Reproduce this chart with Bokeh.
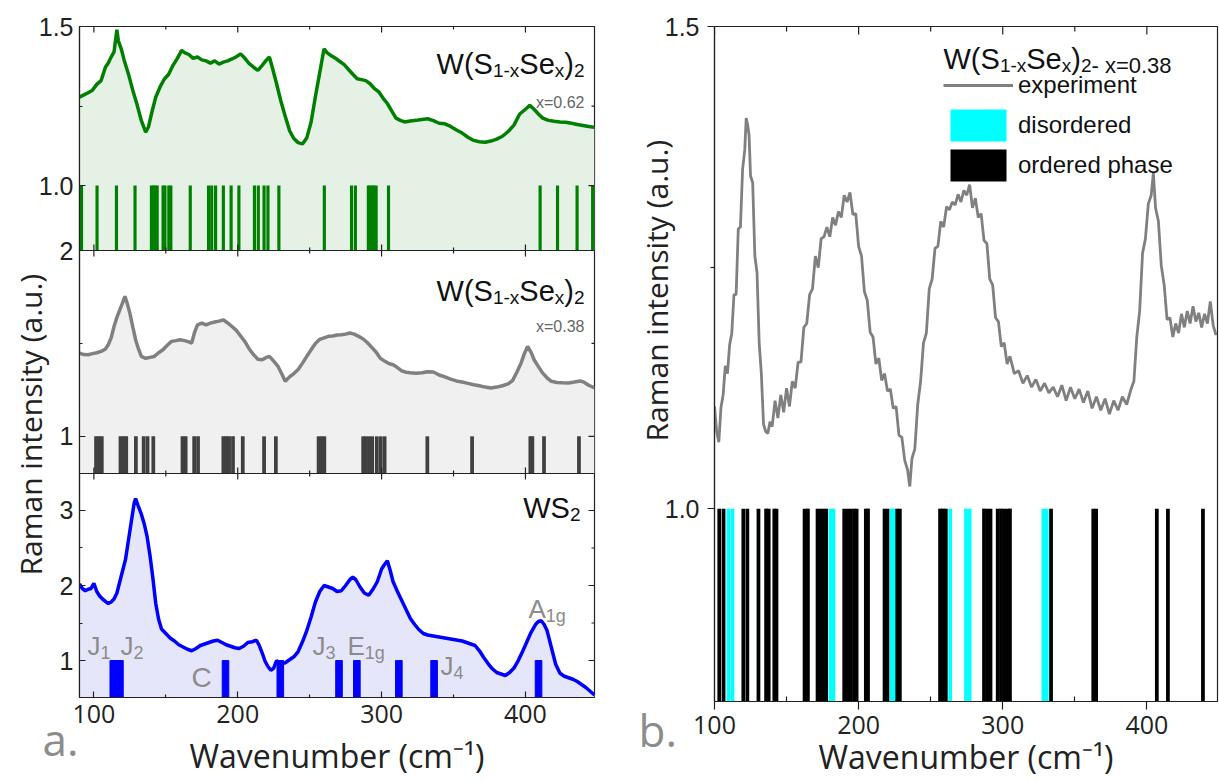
import math
from bokeh.plotting import figure
from bokeh.models import Range1d, FixedTicker, Label, Span, Legend, LegendItem, PrintfTickFormatter, Title
from bokeh.layouts import row
from bokeh.embed import file_html
from bokeh.resources import INLINE

# ---------------- data ----------------
x_ticks = [100, 200, 300, 400]
x_minor = [150, 250, 350]

# (a) top: W(S1-xSex)2, x = 0.62
green_x = [90, 93, 96, 99, 102, 105, 108, 110, 112, 114, 116, 117, 119, 121, 124, 127, 130, 133, 136, 138,
           140, 143, 146, 149, 152, 155, 158, 161, 163, 166, 169, 172, 175, 178, 181, 184, 187, 190, 193, 196,
           199, 202, 205, 208, 211, 214, 217, 220, 222, 224, 227, 230, 233, 236, 239, 242, 245, 248, 251, 254,
           257, 260, 262, 265, 268, 271, 274, 277, 280, 283, 286, 289, 292, 295, 298, 301, 304, 307, 310, 313,
           316, 320, 324, 328, 332, 336, 340, 344, 348, 352, 356, 360, 364, 368, 372, 376, 380, 384, 388, 392,
           396, 400, 403, 406, 409, 412, 416, 420, 424, 428, 432, 436, 440, 444, 448]
green_y = [1.278, 1.285, 1.292, 1.300, 1.318, 1.330, 1.372, 1.385, 1.404, 1.420, 1.490, 1.455, 1.430, 1.395, 1.351, 1.300, 1.255, 1.204, 1.168, 1.185,
           1.225, 1.278, 1.310, 1.335, 1.350, 1.378, 1.400, 1.425, 1.418, 1.412, 1.400, 1.404, 1.395, 1.392, 1.385, 1.392, 1.382, 1.388, 1.392, 1.398,
           1.405, 1.414, 1.400, 1.383, 1.372, 1.362, 1.378, 1.395, 1.404, 1.372, 1.320, 1.265, 1.218, 1.173, 1.148, 1.135, 1.131, 1.150, 1.200, 1.280,
           1.355, 1.430, 1.418, 1.408, 1.400, 1.390, 1.380, 1.365, 1.350, 1.336, 1.333, 1.330, 1.320, 1.305, 1.295, 1.275, 1.258, 1.235, 1.212, 1.205,
           1.200, 1.203, 1.205, 1.208, 1.210, 1.204, 1.196, 1.194, 1.186, 1.175, 1.165, 1.152, 1.142, 1.138, 1.136, 1.140, 1.146, 1.155, 1.170, 1.190,
           1.225, 1.240, 1.252, 1.240, 1.225, 1.212, 1.205, 1.202, 1.200, 1.199, 1.196, 1.192, 1.189, 1.186, 1.183]
green_modes = [91.4, 102.2, 115.7, 128.6, 140.0, 141.3, 142.7, 144.0, 148.1, 149.4, 152.1, 153.5, 167.0, 179.7,
               181.9, 184.6, 190.0, 195.4, 200.8, 211.6, 214.3, 218.3, 221.0, 228.6, 260.2, 279.1, 281.8, 290.8,
               291.8, 293.5, 294.5, 296.2, 304.8, 410.2, 422.3, 435.9, 446.7]

# (a) middle: W(S1-xSex)2, x = 0.38
gray_x = [90, 93, 96, 99, 102, 105, 108, 110, 112, 114, 116, 118, 120, 121.6, 123, 125, 127, 129, 131, 133,
          136, 139, 142, 145, 148, 151, 154, 157, 160, 163, 166, 168, 170, 172, 175, 178, 181, 184, 187, 190,
          193, 196, 199, 202, 205, 208, 211, 214, 217, 220, 222, 225, 228, 231, 233, 236, 239, 242, 245, 248,
          251, 254, 257, 260, 263, 266, 269, 272, 275, 278, 281, 284, 287, 290, 293, 296, 299, 302, 305, 308,
          311, 314, 317, 320, 324, 328, 332, 336, 340, 344, 348, 352, 356, 360, 364, 368, 372, 376, 380, 384,
          388, 391, 394, 397, 399, 401.5, 404, 406, 409, 412, 415, 418, 422, 426, 430, 434, 438, 441, 444, 448]
gray_y = [1.448, 1.440, 1.439, 1.445, 1.450, 1.457, 1.470, 1.493, 1.530, 1.591, 1.640, 1.681, 1.720, 1.753, 1.720, 1.663, 1.590, 1.520, 1.470, 1.430,
          1.420, 1.425, 1.430, 1.450, 1.466, 1.490, 1.511, 1.515, 1.520, 1.515, 1.508, 1.502, 1.560, 1.600, 1.609, 1.600, 1.609, 1.615, 1.620, 1.627,
          1.610, 1.591, 1.570, 1.540, 1.510, 1.470, 1.440, 1.415, 1.412, 1.425, 1.430, 1.405, 1.376, 1.330, 1.296, 1.320, 1.338, 1.360, 1.394, 1.430,
          1.466, 1.500, 1.522, 1.530, 1.538, 1.540, 1.545, 1.547, 1.550, 1.556, 1.550, 1.538, 1.525, 1.505, 1.480, 1.455, 1.421, 1.405, 1.392, 1.385,
          1.370, 1.352, 1.345, 1.342, 1.340, 1.342, 1.348, 1.346, 1.330, 1.320, 1.308, 1.298, 1.292, 1.285, 1.278, 1.272, 1.265, 1.260, 1.265, 1.272,
          1.282, 1.300, 1.345, 1.395, 1.440, 1.484, 1.450, 1.412, 1.375, 1.340, 1.315, 1.296, 1.290, 1.288, 1.287, 1.292, 1.298, 1.290, 1.275, 1.260]
gray_modes = [101.5, 103.5, 105.5, 118.5, 120.5, 122.5, 129.2, 134.6, 137.3, 141.3, 161.6, 163.8, 169.7, 172.4,
              190.0, 192.0, 194.0, 196.7, 203.5, 218.3, 226.5, 256.2, 258.3, 260.2, 287.2, 289.1, 291.3, 293.5,
              296.7, 299.4, 302.1, 331.8, 362.9, 403.4, 404.8, 412.9, 437.2]

# (a) bottom: WS2
blue_x = [90, 92, 94, 96, 98, 100, 102, 104, 106, 108, 110, 112, 114, 116, 118, 120, 122, 124, 126, 128,
          129, 131, 133, 135, 137, 139, 141, 143, 145, 147, 150, 153, 156, 159, 162, 165, 168, 171, 174, 177,
          180, 183, 186, 189, 192, 195, 198, 201, 204, 207, 210, 213, 215, 217, 219, 221, 223, 225, 227, 229,
          231, 233, 236, 239, 242, 245, 248, 251, 254, 257, 260, 263, 266, 269, 272, 275, 278, 280, 282, 285,
          288, 291, 294, 297, 300, 302, 304, 306, 308, 311, 314, 317, 320, 323, 326, 329, 332, 335, 338, 341,
          344, 347, 350, 353, 356, 359, 362, 365, 368, 371, 374, 377, 380, 383, 386, 389, 392, 395, 398, 401,
          404, 407, 409, 411, 413, 415, 417, 419, 421, 424, 427, 430, 433, 436, 439, 442, 445, 448]
blue_y = [2.02, 1.96, 1.93, 1.95, 1.96, 2.03, 1.92, 1.86, 1.82, 1.79, 1.76, 1.78, 1.82, 1.90, 2.05, 2.20, 2.35, 2.60, 2.85, 3.10,
          3.16, 3.05, 2.95, 2.82, 2.65, 2.40, 2.10, 1.76, 1.55, 1.42, 1.36, 1.30, 1.26, 1.21, 1.18, 1.15, 1.13, 1.16, 1.20, 1.22,
          1.24, 1.26, 1.27, 1.24, 1.21, 1.19, 1.17, 1.16, 1.19, 1.24, 1.25, 1.27, 1.20, 1.10, 0.99, 0.92, 0.87, 0.90, 1.00, 0.97,
          0.96, 0.97, 1.01, 1.05, 1.12, 1.25, 1.40, 1.58, 1.78, 1.92, 2.00, 1.98, 1.96, 1.92, 1.93, 2.00, 2.08, 2.11, 2.08, 1.98,
          1.90, 1.87, 1.95, 2.05, 2.22, 2.28, 2.33, 2.20, 2.05, 1.92, 1.80, 1.68, 1.56, 1.48, 1.41, 1.36, 1.34, 1.33, 1.32, 1.31,
          1.30, 1.29, 1.28, 1.27, 1.26, 1.24, 1.22, 1.20, 1.13, 1.04, 0.96, 0.89, 0.84, 0.82, 0.80, 0.84, 0.90, 1.00, 1.12, 1.25,
          1.38, 1.48, 1.52, 1.53, 1.48, 1.40, 1.25, 1.10, 0.95, 0.83, 0.79, 0.77, 0.75, 0.72, 0.68, 0.64, 0.59, 0.54]
blue_modes = [113.5, 118.1, 191.5, 229.6, 270.4, 282.8, 312.0, 336.5, 409.1]

# (b) x = 0.38 experiment and computed modes
right_x = [100, 101.5, 103, 104.5, 106, 107.5, 109, 110.5, 112, 113.5, 115, 116.5, 118, 119.5, 121, 122, 123, 124, 125, 126.5,
           128, 129.5, 131, 132.5, 134, 135.5, 137, 138.5, 140, 142, 144, 146, 148, 150, 152, 154, 156, 158, 160, 162,
           164, 166, 168, 170, 172, 174, 176, 178, 180, 182, 184, 186, 188, 190, 192, 194, 196, 198, 200, 202,
           204, 206, 208, 210, 212, 214, 216, 218, 220, 222, 224, 226, 228, 230, 232, 234, 235.5, 237, 239, 241,
           243, 245, 247, 249, 251, 253, 255, 257, 259, 261, 263, 265, 267, 269, 271, 273, 275, 277, 279, 281,
           283, 285, 287, 289, 291, 293, 295, 297, 299, 301, 303, 305, 308, 311, 314, 317, 320, 323, 326, 329,
           332, 335, 338, 341, 344, 347, 350, 353, 356, 359, 362, 365, 368, 371, 374, 377, 380, 383, 386, 389,
           391, 393, 395, 397, 399, 401, 403, 404.5, 406, 408, 410, 412, 414, 416, 418, 420, 422, 424, 426, 428,
           430, 432, 434, 436, 438, 440, 442, 444, 446, 448]
right_y = [1.106, 1.080, 1.069, 1.105, 1.118, 1.148, 1.140, 1.170, 1.182, 1.222, 1.222, 1.290, 1.292, 1.352, 1.372, 1.405, 1.398, 1.387, 1.345, 1.338,
           1.262, 1.245, 1.172, 1.140, 1.088, 1.080, 1.078, 1.090, 1.085, 1.112, 1.094, 1.118, 1.100, 1.125, 1.106, 1.132, 1.125, 1.152, 1.152, 1.188,
           1.192, 1.222, 1.228, 1.262, 1.250, 1.280, 1.282, 1.292, 1.282, 1.302, 1.294, 1.308, 1.302, 1.325, 1.318, 1.328, 1.305, 1.306, 1.272, 1.262,
           1.225, 1.216, 1.183, 1.178, 1.150, 1.156, 1.133, 1.140, 1.122, 1.124, 1.104, 1.106, 1.076, 1.074, 1.050, 1.040, 1.023, 1.052, 1.062, 1.108,
           1.132, 1.172, 1.182, 1.228, 1.238, 1.270, 1.272, 1.298, 1.292, 1.313, 1.310, 1.318, 1.315, 1.326, 1.318, 1.330, 1.325, 1.336, 1.312, 1.322,
           1.302, 1.306, 1.278, 1.275, 1.238, 1.232, 1.198, 1.194, 1.168, 1.172, 1.150, 1.158, 1.140, 1.143, 1.130, 1.138, 1.126, 1.134, 1.122, 1.130,
           1.120, 1.126, 1.116, 1.128, 1.112, 1.126, 1.114, 1.124, 1.110, 1.122, 1.104, 1.116, 1.102, 1.114, 1.098, 1.112, 1.102, 1.116, 1.108, 1.124,
           1.132, 1.178, 1.205, 1.265, 1.280, 1.316, 1.325, 1.348, 1.312, 1.298, 1.252, 1.232, 1.196, 1.198, 1.178, 1.192, 1.182, 1.202, 1.188, 1.205,
           1.192, 1.210, 1.194, 1.203, 1.188, 1.202, 1.192, 1.215, 1.190, 1.180]
ordered_modes = [103.3, 106.3, 120.0, 122.8, 130.5, 135.8, 137.6, 141.5, 143.0, 162.5, 164.8, 171.5, 173.5, 175.5,
                 177.5, 190.0, 192.3, 194.6, 196.9, 198.6, 205.0, 206.5, 218.0, 220.0, 226.8, 228.6, 256.5, 258.5,
                 260.5, 287.0, 289.3, 291.5, 296.5, 298.8, 301.0, 303.3, 305.0, 333.5, 362.8, 364.8, 406.9, 414.6, 438.9]
disordered_modes = [109.7, 112.5, 180.5, 182.5, 222.8, 224.6, 263.5, 274.5, 277.0, 328.2, 330.5]

# ---------------- helpers ----------------
AX = "#222222"
GRAYTXT = "#8c8c8c"
SANS = "Liberation Sans"
OPEN = "Open Sans"
AW = {'W': 944, '(': 333, ')': 333, 'S': 667, 'e': 556, 'x': 500, '1': 556, '-': 333, '2': 556, ' ': 278,
      '=': 584, '0': 556, '.': 278, '3': 556, '6': 556, '8': 556, 'A': 667, 'E': 667, 'J': 500, 'C': 722,
      'g': 556, '4': 556}


def tw(s, size):
    return sum(AW.get(c, 556) for c in s) * size / 1000.0


def rich(fig, x, y, pieces, sizes, color, align="left", yr="default", drop=7, font=SANS):
    ws = [tw(t, sizes[s]) for t, s in pieces]
    off = -sum(ws) if align == "right" else 0.0
    for (t, s), w in zip(pieces, ws):
        fig.add_layout(Label(x=x, y=y, x_offset=off, y_offset=(-drop if s else 0), text=t, text_font=font,
                             text_font_size=f"{sizes[s]}px", text_color=color,
                             text_baseline="alphabetic", text_align="left", y_range_name=yr))
        off += w


def style_axis(ax, tin=0, tout=0, mtin=0, mtout=0, font=OPEN, size="25px", standoff=6):
    ax.major_tick_in = tin
    ax.major_tick_out = tout
    ax.minor_tick_in = mtin
    ax.minor_tick_out = mtout
    for a in ("axis_line", "major_tick_line", "minor_tick_line"):
        setattr(ax, a + "_color", AX)
        setattr(ax, a + "_width", 1.2)
    ax.major_label_text_font = font
    ax.major_label_text_font_size = size
    ax.major_label_text_color = AX
    ax.major_label_standoff = standoff


def xlabel(ax, standoff):
    ax.axis_label = "Wavenumber (cm\u207b\u00b9)"
    ax.axis_label_text_font = OPEN
    ax.axis_label_text_font_size = "32px"
    ax.axis_label_text_font_style = "normal"
    ax.axis_label_text_color = AX
    ax.axis_label_standoff = standoff


def ytitle(offset):
    return Title(text="Raman intensity (a.u.)", align="left", offset=offset, text_font=OPEN,
                 text_font_size="30px", text_font_style="normal", text_color=AX, standoff=-30)


def letter(fig, x, y, text):
    # panel letter lives in the bottom side panel, so it is not clipped to the frame
    fig.add_layout(Label(x=x, y=y, text=text, text_align="left", text_baseline="alphabetic",
                         text_font=OPEN, text_font_size="44px", text_color=GRAYTXT), "below")


WSSE = [("W(S", 0), ("1-x", 1), ("Se", 0), ("x", 1), (")", 0), ("2", 1)]

# ---------------- left figure (a) ----------------
FT, FB, FL, FR = 26, 697, 79, 594
XL = (90.0, 448.0)
TOP_VR = (0.796, 1.5)
MID_VR = (0.80, 2.0)
BOT_VR = (0.507, 3.493)


def full(vr, a, b):
    lo, hi = vr
    s = (b - a) / (hi - lo)
    return (lo - (FB - b) / s, hi + (a - FT) / s), s


top_full, s_top = full(TOP_VR, 26, 250)
mid_full, s_mid = full(MID_VR, 250, 473)
bot_full, s_bot = full(BOT_VR, 473, 697)
s_x = (FR - FL) / (XL[1] - XL[0])


def to_def(v, rng):
    pos = bot_full[0] + (v - rng[0]) / (rng[1] - rng[0]) * (bot_full[1] - bot_full[0])
    return min(max(pos, bot_full[0]), bot_full[1] - 1e-9)


def lx(px):
    return XL[0] + (px - FL) / s_x


def lyb(py):
    return BOT_VR[0] + (FB - py) / s_bot


def lyt(py):
    return TOP_VR[1] - (py - FT) / s_top


def lym(py):
    return MID_VR[1] - (py - 250) / s_mid


p = figure(frame_width=FR - FL, frame_height=FB - FT, x_range=Range1d(*XL), y_range=Range1d(*bot_full),
           output_backend="svg", toolbar_location=None, min_border_left=FL, min_border_right=620 - FR,
           min_border_top=FT, min_border_bottom=781 - FB)
p.extra_y_ranges = {"top": Range1d(*top_full), "mid": Range1d(*mid_full)}
p.xgrid.visible = False
p.ygrid.visible = False
p.outline_line_color = AX
p.outline_line_width = 1.2
p.background_fill_color = "white"
p.border_fill_color = "white"

# y ticks of the three stacked panels, on one axis
top_ticks, mid_ticks, bot_ticks = [1.0, 1.5], [1, 2], [1, 2, 3]
top_minor, mid_minor, bot_minor = [1.25], [1.5], [1.5, 2.5]
tick_pos, overrides = [], {}
for vals, rng, fmt in ((top_ticks, top_full, "{:.1f}"), (mid_ticks, mid_full, "{:g}"), (bot_ticks, bot_full, "{:g}")):
    for v in vals:
        pos = to_def(v, rng)
        tick_pos.append(pos)
        overrides[pos] = fmt.format(v)
minor_pos = [to_def(v, top_full) for v in top_minor] + [to_def(v, mid_full) for v in mid_minor] + \
            [to_def(v, bot_full) for v in bot_minor]

yax = p.yaxis[0]
yax.ticker = FixedTicker(ticks=tick_pos, minor_ticks=minor_pos)
yax.major_label_overrides = overrides
style_axis(yax, tin=6, mtin=3, font=SANS, standoff=6)
p.add_layout(ytitle(FB - 575), "left")

xax = p.xaxis[0]
xax.ticker = FixedTicker(ticks=x_ticks, minor_ticks=x_minor)
style_axis(xax, tin=6, mtin=3, font=OPEN, standoff=7)
xlabel(xax, 8)

# fills
p.varea(x=green_x, y1=TOP_VR[0], y2=green_y, fill_color="#e5f1e5", y_range_name="top")
p.varea(x=gray_x, y1=MID_VR[0], y2=gray_y, fill_color="#f0f0f0", y_range_name="mid")
p.varea(x=blue_x, y1=BOT_VR[0], y2=blue_y, fill_color="#e6e6fa")
# computed modes
p.vbar(x=green_modes, width=2.2, bottom=TOP_VR[0], top=1.0, fill_color="#008000", line_color=None, y_range_name="top")
p.vbar(x=gray_modes, width=2.6, bottom=MID_VR[0], top=1.0, fill_color="#404040", line_color=None, y_range_name="mid")
p.vbar(x=blue_modes, width=4.6, bottom=BOT_VR[0], top=1.0, fill_color="#0000ff", line_color="#0000ff",
       line_width=1)
# spectra
p.line(green_x, green_y, line_color="#008000", line_width=3.5, y_range_name="top")
p.line(gray_x, gray_y, line_color="#808080", line_width=3.5, y_range_name="mid")
p.line(blue_x, blue_y, line_color="#0000ff", line_width=3.5)

# panel dividers, and inward ticks on the dividers, the top edge and the right edge
p.add_layout(Span(location=TOP_VR[0], dimension="width", line_color=AX, line_width=1.2, y_range_name="top"))
p.add_layout(Span(location=MID_VR[0], dimension="width", line_color=AX, line_width=1.2, y_range_name="mid"))
TK = dict(line_color=AX, line_width=1.2)
for xs, ln in ((x_ticks, 6), (x_minor, 3)):
    p.segment(x0=xs, x1=xs, y0=TOP_VR[1], y1=TOP_VR[1] - ln / s_top, y_range_name="top", **TK)
    p.segment(x0=xs, x1=xs, y0=TOP_VR[0], y1=TOP_VR[0] + ln / s_top, y_range_name="top", **TK)
    p.segment(x0=xs, x1=xs, y0=MID_VR[1], y1=MID_VR[1] - ln / s_mid, y_range_name="mid", **TK)
    p.segment(x0=xs, x1=xs, y0=MID_VR[0], y1=MID_VR[0] + ln / s_mid, y_range_name="mid", **TK)
    p.segment(x0=xs, x1=xs, y0=BOT_VR[1], y1=BOT_VR[1] - ln / s_bot, **TK)
for ys, ln in ((tick_pos, 6), (minor_pos, 3)):
    p.segment(x0=XL[1], x1=XL[1] - ln / s_x, y0=ys, y1=ys, **TK)

# panel texts
rich(p, lx(584), lyt(63), WSSE, (29, 19), "#111111", align="right", yr="top")
rich(p, lx(584), lyt(102), [("x=0.62", 0)], (16,), "#666666", align="right", yr="top")
rich(p, lx(584), lym(290), WSSE, (29, 19), "#111111", align="right", yr="mid")
rich(p, lx(584), lym(326), [("x=0.38", 0)], (16,), "#666666", align="right", yr="mid")
rich(p, lx(580), lyb(507), [("WS", 0), ("2", 1)], (29, 19), "#111111", align="right")
rich(p, lx(87), lyb(645), [("J", 0), ("1", 1)], (26, 18), GRAYTXT)
rich(p, lx(120), lyb(645), [("J", 0), ("2", 1)], (26, 18), GRAYTXT)
rich(p, lx(191), lyb(677), [("C", 0)], (28,), GRAYTXT)
rich(p, lx(312), lyb(645), [("J", 0), ("3", 1)], (26, 18), GRAYTXT)
rich(p, lx(347), lyb(645), [("E", 0), ("1g", 1)], (26, 18), GRAYTXT)
rich(p, lx(440), lyb(665), [("J", 0), ("4", 1)], (26, 18), GRAYTXT)
rich(p, lx(528), lyb(608), [("A", 0), ("1g", 1)], (26, 18), GRAYTXT)

letter(p, lx(42), lyb(738), "a.")

# ---------------- right figure (b) ----------------
RFT, RFB, RFL, RFR = 25, 700, 714, 1217
XR = (100.0, 449.0)
YR = (0.8, 1.5)
s_rx = (RFR - RFL) / (XR[1] - XR[0])
s_ry = (RFB - RFT) / (YR[1] - YR[0])


def rx(px):
    return XR[0] + (px - RFL) / s_rx


def ry(py):
    return YR[1] - (py - RFT) / s_ry


q = figure(frame_width=RFR - RFL, frame_height=RFB - RFT, x_range=Range1d(*XR), y_range=Range1d(*YR),
           output_backend="svg", toolbar_location=None, min_border_left=RFL - 620, min_border_right=1219 - RFR,
           min_border_top=RFT, min_border_bottom=781 - RFB)
q.xgrid.visible = False
q.ygrid.visible = False
q.outline_line_color = AX
q.outline_line_width = 1.2
q.background_fill_color = "white"
q.border_fill_color = "white"

qy = q.yaxis[0]
qy.ticker = FixedTicker(ticks=[1.0, 1.5 - 1e-9], minor_ticks=[1.25])
qy.formatter = PrintfTickFormatter(format="%.1f")
style_axis(qy, tout=7, mtout=4, font=SANS, standoff=8)
q.add_layout(ytitle(RFB - 440), "left")
qx = q.xaxis[0]
qx.ticker = FixedTicker(ticks=x_ticks, minor_ticks=x_minor)
style_axis(qx, tout=8, mtin=5, font=OPEN, standoff=6)
xlabel(qx, -2)

r_dis = q.vbar(x=disordered_modes, width=2.6, bottom=YR[0], top=1.0, fill_color="#00ffff", line_color=None)
r_ord = q.vbar(x=ordered_modes, width=2.6, bottom=YR[0], top=1.0, fill_color="#000000", line_color=None)
r_exp = q.line(right_x, right_y, line_color="#808080", line_width=2.8)
for xs, ln in ((x_ticks, 8), (x_minor, 5)):
    q.segment(x0=xs, x1=xs, y0=YR[1], y1=YR[1] - ln / s_ry, **TK)

legend = Legend(items=[LegendItem(label="experiment", renderers=[r_exp]),
                       LegendItem(label="disordered", renderers=[r_dis]),
                       LegendItem(label="ordered phase", renderers=[r_ord])],
                location=(229, 516), glyph_width=70, glyph_height=40, label_height=38, spacing=0, padding=0,
                margin=0, label_standoff=5, label_text_font=SANS, label_text_font_size="24px",
                label_text_color="#111111", background_fill_alpha=0, border_line_alpha=0)
q.add_layout(legend)

rich(q, rx(943), ry(57), WSSE + [(" - x=0.38", 2)], (29, 19, 22), "#111111")
letter(q, rx(638), ry(728), "b.")

layout = row(p, q)
open("out.html", "w").write(file_html(layout, INLINE))
